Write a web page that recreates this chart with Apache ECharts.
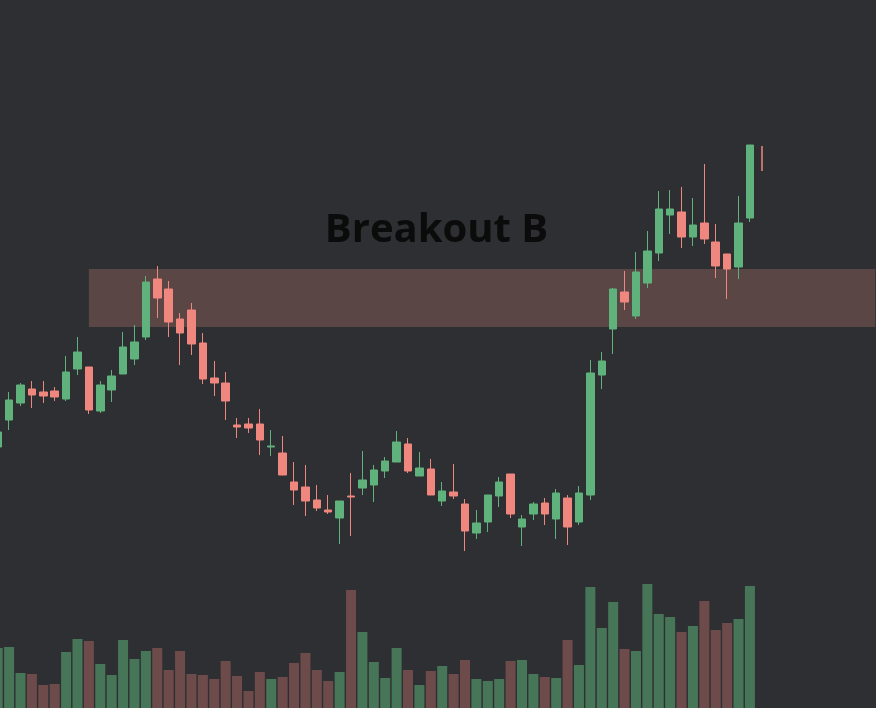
<!DOCTYPE html>
<html>
<head>
<meta charset="utf-8">
<title>Breakout B</title>
<script src="https://cdn.jsdelivr.net/npm/echarts@6/dist/echarts.min.js"></script>
<style>
  html, body { margin: 0; padding: 0; background: #2e2f33; overflow: hidden; }
  /* the chart is a slice of a wider view: the first bar is cut at the left edge */
  #main { position: absolute; left: -8px; top: 0; width: 889px; height: 708px; }
</style>
</head>
<body>
<div id="main"></div>
<script>
var dates = [
  '2023-03-01', '2023-03-02', '2023-03-03', '2023-03-06', '2023-03-07', '2023-03-08', '2023-03-09', '2023-03-10',
  '2023-03-13', '2023-03-14', '2023-03-15', '2023-03-16', '2023-03-17', '2023-03-20', '2023-03-21', '2023-03-22',
  '2023-03-23', '2023-03-24', '2023-03-27', '2023-03-28', '2023-03-29', '2023-03-30', '2023-03-31', '2023-04-03',
  '2023-04-04', '2023-04-05', '2023-04-06', '2023-04-07', '2023-04-10', '2023-04-11', '2023-04-12', '2023-04-13',
  '2023-04-14', '2023-04-17', '2023-04-18', '2023-04-19', '2023-04-20', '2023-04-21', '2023-04-24', '2023-04-25',
  '2023-04-26', '2023-04-27', '2023-04-28', '2023-05-01', '2023-05-02', '2023-05-03', '2023-05-04', '2023-05-05',
  '2023-05-08', '2023-05-09', '2023-05-10', '2023-05-11', '2023-05-12', '2023-05-15', '2023-05-16', '2023-05-17',
  '2023-05-18', '2023-05-19', '2023-05-22', '2023-05-23', '2023-05-24', '2023-05-25', '2023-05-26', '2023-05-29',
  '2023-05-30', '2023-05-31', '2023-06-01', '2023-06-02', '2023-06-05', '2023-06-06', '2023-06-07', '2023-06-08',
  '2023-06-09', '2023-06-12', '2023-06-13', '2023-06-14', '2023-06-15', '2023-06-16'
];

// open, close, low, high
var ohlc = [
  [26.1, 27.6, 25.6, 28.0], [28.8, 30.8, 27.8, 31.6], [30.5, 32.3, 30.2, 32.5], [31.9, 31.3, 30.0, 32.7],
  [31.6, 31.2, 30.5, 32.7], [31.7, 31.1, 30.7, 32.1], [30.9, 33.6, 30.7, 35.2], [33.9, 35.6, 33.3, 37.1],
  [34.1, 29.8, 29.4, 34.1], [29.7, 32.3, 29.5, 32.7], [31.8, 33.2, 30.6, 33.8], [33.4, 36.1, 33.4, 37.6],
  [34.9, 36.6, 34.3, 38.3], [37.1, 42.6, 36.8, 43.2], [42.9, 41.0, 39.0, 44.2], [41.9, 38.6, 37.1, 42.7],
  [38.9, 37.5, 34.3, 39.5], [39.8, 36.4, 35.3, 40.5], [36.5, 32.9, 32.4, 37.5], [33.0, 32.5, 31.2, 34.7],
  [32.5, 30.7, 28.8, 33.6], [28.3, 28.1, 27.0, 29.0], [28.4, 28.0, 27.5, 29.0], [28.4, 26.8, 25.3, 29.9],
  [26.1, 26.2, 25.2, 27.8], [25.5, 23.3, 23.3, 27.2], [22.6, 21.8, 20.3, 24.6], [22.1, 20.7, 19.2, 24.3],
  [20.8, 20.0, 19.7, 22.3], [19.8, 19.6, 19.4, 21.3], [19.0, 20.7, 16.4, 20.7], [21.2, 21.1, 17.2, 23.5],
  [22.0, 22.8, 21.3, 25.7], [22.3, 23.8, 20.6, 24.3], [23.7, 24.7, 23.0, 25.1], [24.6, 26.6, 24.6, 27.7],
  [26.4, 23.7, 23.5, 27.0], [23.2, 24.0, 23.2, 25.6], [23.9, 21.3, 21.3, 24.9], [20.7, 21.7, 20.2, 22.6],
  [21.6, 21.2, 20.9, 24.4], [20.4, 17.7, 15.7, 20.9], [17.5, 18.5, 16.9, 19.8], [18.6, 21.3, 17.6, 21.3],
  [21.2, 22.6, 20.1, 23.1], [23.4, 19.4, 19.0, 23.4], [18.1, 18.9, 16.2, 19.3], [19.4, 20.4, 18.8, 20.6],
  [20.5, 19.4, 18.3, 21.0], [18.9, 21.5, 16.9, 21.9], [21.0, 18.1, 16.3, 21.3], [18.6, 21.5, 18.3, 22.2],
  [21.3, 33.5, 20.8, 34.8], [33.3, 34.7, 31.9, 35.6], [37.9, 41.9, 35.4, 42.0], [41.6, 40.6, 39.8, 43.7],
  [39.2, 43.6, 38.9, 45.6], [42.5, 45.7, 42.0, 47.7], [45.5, 49.9, 44.7, 51.7], [49.3, 49.9, 47.4, 51.8],
  [49.6, 47.1, 46.0, 52.1], [47.1, 48.3, 46.2, 51.0], [48.5, 46.9, 46.4, 54.4], [46.6, 44.2, 43.0, 48.4],
  [45.4, 43.9, 40.9, 45.4], [44.1, 48.5, 42.9, 51.2], [49.0, 56.3, 48.6, 56.3]
];

// last, still forming bar: only its range (high, low) is shown
var lastBarIndex = 67;
var lastBarRange = [56.2, 53.7];

var volumes = [
  600, 610, 350, 340, 230, 240, 560, 690, 670, 440, 330, 680, 490, 570, 600, 380,
  570, 340, 330, 290, 470, 320, 170, 360, 290, 310, 450, 550, 380, 270, 360, 1180,
  760, 460, 300, 600, 380, 230, 370, 420, 340, 480, 290, 270, 290, 470, 480, 340,
  310, 300, 680, 430, 1210, 800, 1060, 590, 570, 1240, 940, 910, 760, 820, 1070, 780,
  850, 890, 1220
];

// breakout zone
var zoneStart = 8;
var zoneTop = 43.9;
var zoneBottom = 38.1;

var upColor = '#60b27c';
var downColor = '#f0877e';
var volUpColor = '#477558';
var volDownColor = '#6e4b4b';

var myChart = echarts.init(document.getElementById('main'));

var volData = volumes.map(function(v, i) {
  var up = ohlc[i][1] >= ohlc[i][0];
  return { value: v, itemStyle: { color: up ? volUpColor : volDownColor } };
});

var grid = { left: 0, right: 0, top: 0, bottom: 0 };

var option = {
  backgroundColor: '#2e2f33',
  animation: false,
  title: {
    text: 'Breakout B',
    left: 'center',
    top: 206,
    textStyle: {
      color: '#0b0b0b',
      fontFamily: 'Open Sans',
      fontWeight: 'bold',
      fontSize: 40
    }
  },
  grid: [grid, grid],
  xAxis: [
    { type: 'category', data: dates, gridIndex: 0, show: false },
    { type: 'category', data: dates, gridIndex: 1, show: false }
  ],
  yAxis: [
    { type: 'value', gridIndex: 0, min: 0, max: 70.8, show: false, splitLine: { show: false } },
    { type: 'value', gridIndex: 1, min: 0, max: 7080, show: false, splitLine: { show: false } }
  ],
  series: [
    {
      name: 'Volume',
      type: 'bar',
      xAxisIndex: 1,
      yAxisIndex: 1,
      barWidth: 10,
      data: volData,
      z: 1
    },
    {
      name: 'Price',
      type: 'candlestick',
      xAxisIndex: 0,
      yAxisIndex: 0,
      barWidth: 8,
      data: ohlc,
      itemStyle: {
        color: upColor,
        color0: downColor,
        borderColor: upColor,
        borderColor0: downColor,
        borderWidth: 1
      },
      markArea: {
        silent: true,
        itemStyle: { color: '#5a4645' },
        data: [[
          { xAxis: zoneStart, yAxis: zoneTop },
          { xAxis: dates.length - 1, yAxis: zoneBottom }
        ]]
      },
      markLine: {
        silent: true,
        symbol: 'none',
        label: { show: false },
        lineStyle: { color: downColor, width: 1.5, type: 'solid' },
        data: [[
          { coord: [lastBarIndex, lastBarRange[0]] },
          { coord: [lastBarIndex, lastBarRange[1]] }
        ]]
      },
      z: 3
    }
  ]
};

myChart.setOption(option);
</script>
</body>
</html>
